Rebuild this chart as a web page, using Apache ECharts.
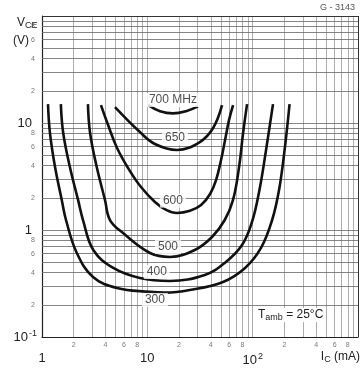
<!DOCTYPE html>
<html><head><meta charset="utf-8">
<script src="https://cdn.jsdelivr.net/npm/echarts@6/dist/echarts.min.js"></script>
<style>html,body{margin:0;padding:0;background:#fff}#c{width:363px;height:374px}</style>
</head><body><div id="c"></div>
<script>
// fT contour curves: [I_C (mA), V_CE (V)]
const curve300 = [[1.14,15],[1.19,8.06],[1.33,3.88],[1.54,1.91],[1.69,1.24],[2.14,0.61],[3.05,0.364],[5.15,0.287],[10.6,0.264],[14.7,0.26],[25.3,0.275],[52.3,0.327],[84.7,0.442],[120,0.68],[153,1.24],[178,2.37],[201,5.6],[224,15]];
const curve400 = [[1.51,15],[1.59,8.06],[1.84,3.88],[2.20,1.91],[2.45,1.24],[3.07,0.65],[4.75,0.442],[8.5,0.356],[16.4,0.334],[35.1,0.38],[54.3,0.492],[79.3,0.724],[98.6,1.19],[116,2.37],[134,5.6],[156,15]];
const curve500 = [[2.73,15],[2.86,8.06],[3.31,3.88],[3.96,1.91],[4.42,1.24],[5.88,0.937],[10.6,0.61],[16.4,0.56],[28.2,0.65],[41.1,0.86],[54.3,1.24],[65.1,1.91],[74.3,3.88],[81.1,8.06],[88.5,15]];
const curve600 = [[3.63,14.7],[4.24,9.58],[5.16,5.84],[6.56,3.80],[8.71,2.52],[11.8,1.83],[15.1,1.54],[19.1,1.44],[25.4,1.51],[32.4,1.71],[39.4,2.17],[44.9,2.93],[50.1,4.51],[54.7,6.94],[59.7,10.7],[65.2,14.7]];
const curve650 = [[4.93,14.1],[8.5,8.24],[11.8,6.37],[19.1,5.6],[31.5,6.64],[42.1,8.98],[51.2,14.7]];
const curve700 = [[10.2,14.7],[13.2,12.9],[17.5,12.3],[23.3,12.9],[30.3,14.3]];
const curveNames = ['300','400','500','600','650','700'];
// curve label texts and anchor values
const curveLabelText = ['700 MHz','650','600','500','400','300'];
const curveLabelAt = [[17.5,16.4],[18.3,7.24],[17.5,1.88],[15.7,0.693],[12.3,0.405],[11.8,0.222]];
// tick labels
const xMajorTicks = [1,10,100];
const xMajorLabels = ['{a|1}','{a|10}','{a|10}{e|2}'];
const yMajorTicks = [0.1,1,10];
const yMajorLabels = ['{a|10}{e|-1}','{p|1}','{p|10}'];
const xMinorTicks = [2,4,6,8,20,40,60,80,200,400,600,800];
const yMinorTicks = [0.2,0.4,0.6,0.8,2,4,6,8,20,40,60,80];
const decadesX = [1,10,100];
const decadesY = [0.1,1,10];
const mult = [1,2,3,4,5,6,7,8,9];

const FONT = 'Liberation Sans';
const xGrid = []; decadesX.forEach(d => mult.forEach(m => { if (!(d===1&&m===1)) xGrid.push(d*m); }));
const yGrid = []; decadesY.forEach(d => mult.forEach(m => { if (!(d===0.1&&m===1)) yGrid.push(+(d*m).toPrecision(3)); }));
const lead = v => Math.round(v / Math.pow(10, Math.floor(Math.log10(v) + 1e-9)));
const richMain = {
  a:{fontSize:13, color:'#222', fontFamily:FONT},
  p:{fontSize:13, color:'#222', fontFamily:FONT, padding:[0,5,0,0]},
  e:{fontSize:9, color:'#222', fontFamily:FONT, padding:[0,0,7,1]}
};

const chart = echarts.init(document.getElementById('c'), null, {renderer:'canvas'});
const series = [];
series.push({type:'line', data:[], silent:true, z:1, markLine:{silent:true, symbol:['none','none'], label:{show:false}, animation:false,
  lineStyle:{color:'#9a9a9a', width:0.8, type:'solid'}, data: xGrid.map(v=>({xAxis:v}))}});
series.push({type:'line', data:[], silent:true, z:1, markLine:{silent:true, symbol:['none','none'], label:{show:false}, animation:false,
  lineStyle:{color:'#666', width:0.8, type:'solid'}, data: yGrid.map(v=>({yAxis:v}))}});
series.push({type:'line', data:[], silent:true, z:2, markLine:{silent:true, symbol:['none','none'], label:{show:false}, animation:false,
  lineStyle:{color:'#333', width:1, type:'solid'}, data: [{xAxis:1000},{yAxis:100}]}});
[curve300,curve400,curve500,curve600,curve650,curve700].forEach((c,i)=>{
  series.push({type:'line', name:curveNames[i], data:c, smooth:0.4, showSymbol:false, symbol:'none', z:5,
    lineStyle:{color:'#111', width:2.6}});
});
series.push({type:'scatter', data: curveLabelAt.map((p,i)=>({value:p, name:curveLabelText[i]})), symbolSize:0, z:6, clip:false,
  label:{show:true, position:'inside', formatter:p=>p.name, fontFamily:FONT, fontSize:12, color:'#222', backgroundColor:'#fff', padding:[1,3]}});
series.push({type:'scatter', data: xMinorTicks.map(v=>[v,0.1]), symbolSize:0, z:6, clip:false,
  label:{show:true, position:'bottom', distance:5, formatter:p=>String(lead(p.value[0])), fontFamily:FONT, fontSize:7, color:'#555'}});
series.push({type:'scatter', data: yMinorTicks.map(v=>[1,v]), symbolSize:0, z:6, clip:false,
  label:{show:true, position:'left', distance:7, formatter:p=>String(lead(p.value[1])), fontFamily:FONT, fontSize:7, color:'#555'}});

chart.setOption({
  animation:false,
  backgroundColor:'#fff',
  grid:{left:42, right:5, top:16, bottom:37},
  xAxis:{type:'log', logBase:10, min:1, max:1000,
    axisLine:{show:true, lineStyle:{color:'#222', width:1.2}}, axisTick:{show:false}, splitLine:{show:false},
    axisLabel:{margin:15, rich:richMain,
      formatter:v=>{const i=xMajorTicks.indexOf(v); return i>=0?xMajorLabels[i]:'';}}},
  yAxis:{type:'log', logBase:10, min:0.1, max:100,
    axisLine:{show:true, lineStyle:{color:'#222', width:1.2}}, axisTick:{show:false}, splitLine:{show:false},
    axisLabel:{margin:5, rich:richMain,
      formatter:v=>{const i=yMajorTicks.findIndex(t=>Math.abs(t-v)<1e-9); return i>=0?yMajorLabels[i]:'';}}},
  graphic:[
    {type:'text', left:17, top:17, style:{text:'{v|V}{s|CE}', fontFamily:FONT, rich:{v:{fontSize:12, fill:'#222', fontFamily:FONT}, s:{fontSize:9, fill:'#222', fontFamily:FONT, padding:[5,0,0,0]}}}},
    {type:'text', left:13, top:35, style:{text:'(V)', fontFamily:FONT, fontSize:12, fill:'#222'}},
    {type:'text', right:8, top:3, style:{text:'G - 3143', fontFamily:FONT, fontSize:9, fill:'#555'}},
    {type:'text', right:3, top:351, style:{text:'{i|I}{s|C}{i| (mA)}', rich:{i:{fontSize:12, fill:'#222', fontFamily:FONT}, s:{fontSize:9, fill:'#222', fontFamily:FONT, padding:[5,0,0,0]}}}},
    {type:'text', left:258, top:308, z:10, style:{text:'{i|T}{s|amb}{i| = 25°C}', backgroundColor:'#fff', rich:{i:{fontSize:12, fill:'#222', fontFamily:FONT}, s:{fontSize:9, fill:'#222', fontFamily:FONT, padding:[5,0,0,0]}}}}
  ],
  series
});
</script></body></html>
